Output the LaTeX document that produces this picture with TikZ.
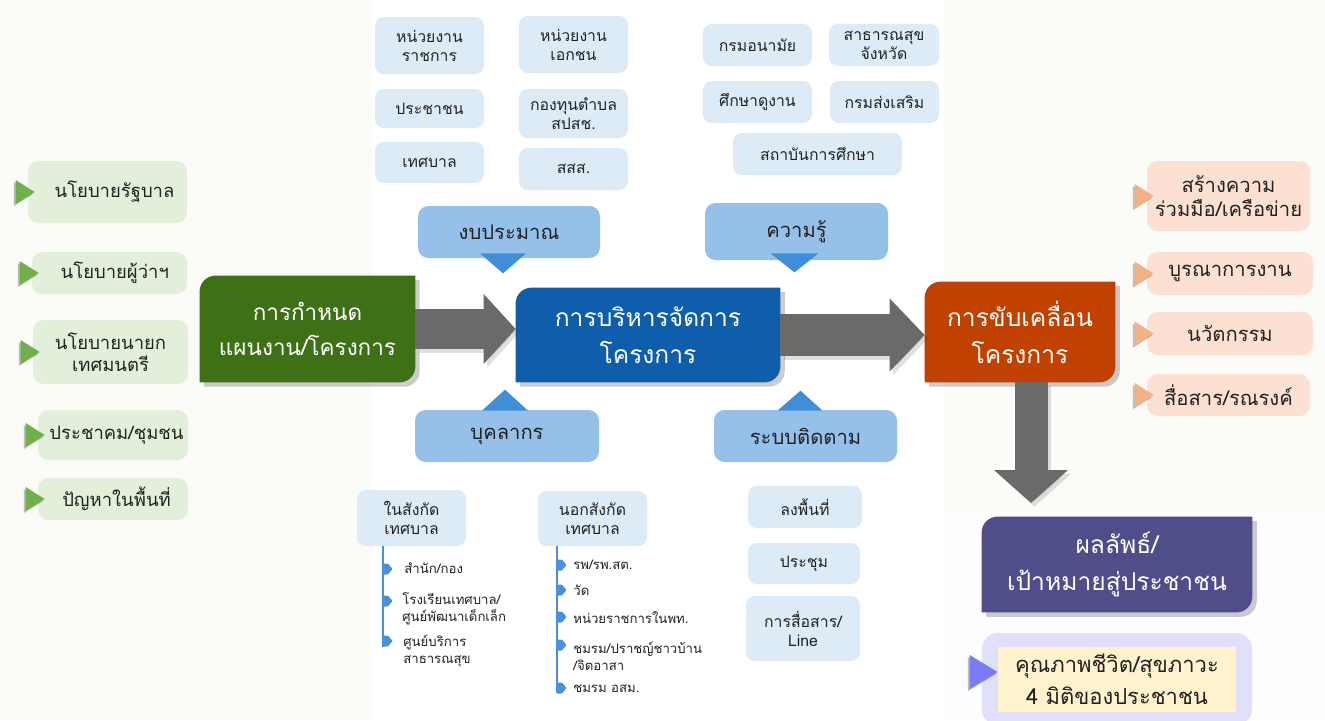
\documentclass[tikz,border=0pt]{standalone}
\usepackage{fontspec}
\setmainfont[Script=Thai]{Loma}
\usetikzlibrary{shadows,calc,arrows.meta,backgrounds}
\pgfdeclarelayer{bottom}
\pgfsetlayers{bottom,background,main}
\definecolor{pg0}{HTML}{FBFBF8}
\definecolor{pg1}{HTML}{FDFCFF}
\definecolor{lgreen}{HTML}{E2EFDA}
\definecolor{gtri}{HTML}{6FB04B}
\definecolor{mgreen}{HTML}{3E7016}
\definecolor{mblue}{HTML}{0F5EAC}
\definecolor{morange}{HTML}{C04100}
\definecolor{mpurple}{HTML}{4F4E8A}
\definecolor{lav}{HTML}{E0E0FA}
\definecolor{yel}{HTML}{FFF2CC}
\definecolor{ptri}{HTML}{7B7BF5}
\definecolor{sblue}{HTML}{DDEBF7}
\definecolor{cblue}{HTML}{95C0E9}
\definecolor{ctri}{HTML}{3F8FD8}
\definecolor{lline}{HTML}{4A8FD9}
\definecolor{peach}{HTML}{FCE1D2}
\definecolor{otri}{HTML}{F4B183}
\definecolor{garr}{HTML}{6A6A6A}
\definecolor{txt}{HTML}{222222}
\tikzset{
  sz/.style 2 args={minimum width={#1*0.02cm}, minimum height={#2*0.02cm}},
  sbox/.style={fill=sblue, rounded corners=5pt, text=txt, align=center, inner sep=0pt, font=\fontsize{9}{10.8}\selectfont},
  cbox/.style={fill=cblue, rounded corners=6pt, text=txt, align=center, inner sep=0pt, font=\fontsize{11.5}{14}\selectfont},
  gbox/.style={fill=lgreen, rounded corners=6pt, text=txt, align=center, inner sep=0pt, font=\fontsize{10.5}{12.5}\selectfont},
  rbox/.style={fill=peach, rounded corners=6pt, text=txt, align=center, inner sep=0pt, font=\fontsize{11.5}{14}\selectfont},
  mbox/.style={text=white, align=center, inner sep=0pt, font=\fontsize{14}{21}\selectfont},
  item/.style={anchor=west, align=left, inner sep=0pt, text=txt, font=\fontsize{7.5}{9.6}\selectfont},
  tshadow/.style={drop shadow={shadow xshift=-1pt, shadow yshift=-1.2pt, opacity=0.25, fill=black}},
  blockarrow/.style={draw=garr, line width=#1}
}
\newcommand\dshape[2]{%
 \begin{pgfonlayer}{background}
 \fill[#2, drop shadow={shadow xshift=2.5pt, shadow yshift=-2.5pt, opacity=0.2, fill=black}]
  [rounded corners=9pt] (#1.north west) rectangle (#1.south east)
  [sharp corners] ([xshift=-10pt]#1.north east) rectangle ([yshift=-10pt]#1.north east)
  ([yshift=10pt]#1.south west) rectangle ([xshift=10pt]#1.south west);
 \end{pgfonlayer}}
\newcommand\mk[2]{\fill[lline, rounded corners=0.6pt] (#1,#2) ++(0,-5.5) -- ++(6,0) -- ++(4.5,5.5) -- ++(-4.5,5.5) -- ++(-6,0) -- cycle;}
\begin{document}
\begin{tikzpicture}[x=0.02cm,y=-0.02cm]
\useasboundingbox (0,0) rectangle (1325,720);
\begin{pgfonlayer}{bottom}
\fill[pg0] (0,0) rectangle (1325,720);
\fill[white] (372,0) rectangle (945,720);
\fill[pg1] (947,510) rectangle (1325,720);
\end{pgfonlayer}

% top small boxes
\node[sbox, sz={109}{57}] (t1) at (429.5,45.5) {หน่วยงาน\\ราชการ};
\node[sbox, sz={109}{57}] (t2) at (573.5,44.5) {หน่วยงาน\\เอกชน};
\node[sbox, sz={109}{39}] (t3) at (429.5,108.5) {ประชาชน};
\node[sbox, sz={109}{49}] (t4) at (573.5,113.5) {กองทุนตำบล\\สปสช.};
\node[sbox, sz={109}{41}] (t5) at (429.5,162.5) {เทศบาล};
\node[sbox, sz={109}{42}] (t6) at (573.5,169) {สสส.};
\node[sbox, sz={109}{42}] (t7) at (757.5,45) {กรมอนามัย};
\node[sbox, sz={110}{42}] (t8) at (884,45) {สาธารณสุข\\จังหวัด};
\node[sbox, sz={109}{42}] (t9) at (757.5,102) {ศึกษาดูงาน};
\node[sbox, sz={109}{42}] (t10) at (884.5,102) {กรมส่งเสริม};
\node[sbox, sz={169}{42}] (t11) at (817.5,154) {สถาบันการศึกษา};

% callouts
\node[cbox, sz={182}{52}] (c1) at (509,232) {งบประมาณ};
\node[cbox, sz={183}{57}] (c2) at (796.5,231.5) {ความรู้};
\node[cbox, sz={184}{52}] (c3) at (507,436) {บุคลากร};
\node[cbox, sz={183}{52}] (c4) at (805.5,436) {ระบบติดตาม};
\fill[ctri] ($(c1.south)+(-29,-5)$) -- ($(c1.south)+(17,-5)$) -- ($(c1.south)+(-6,15)$) -- cycle;
\fill[ctri] ($(c2.south)+(-26,-7)$) -- ($(c2.south)+(22,-7)$) -- ($(c2.south)+(-2,12)$) -- cycle;
\fill[ctri] ($(c3.north)+(-25,1)$) -- ($(c3.north)+(21,1)$) -- ($(c3.north)+(-2,-20)$) -- cycle;
\fill[ctri] ($(c4.north)+(-28,1)$) -- ($(c4.north)+(17,1)$) -- ($(c4.north)+(-5,-19)$) -- cycle;

% main boxes
\node[mbox, sz={215}{106}, font=\fontsize{12.8}{20}\selectfont] (g) at (307.5,329) {การกำหนด\\แผนงาน/โครงการ};
\node[mbox, sz={264}{94}] (b) at (648,335) {การบริหารจัดการ\\โครงการ};
\node[mbox, sz={190}{100}] (o) at (1020,332) {การขับเคลื่อน\\โครงการ};
\node[mbox, sz={270}{95}] (p) at (1117,564.5) {ผลลัพธ์/\\เป้าหมายสู่ประชาชน};
\dshape{g}{mgreen}
\dshape{b}{mblue}
\dshape{o}{morange}
\dshape{p}{mpurple}

% block arrows
\draw[blockarrow=0.8cm, black, opacity=0.12, transform canvas={xshift=2pt,yshift=-2pt}, -{Triangle[length=0.64cm, width=1.36cm]}] (g.east) -- (g.east -| b.west);
\draw[blockarrow=0.8cm, -{Triangle[length=0.64cm, width=1.36cm]}] (g.east) -- (g.east -| b.west);
\draw[blockarrow=0.84cm, black, opacity=0.12, transform canvas={xshift=2pt,yshift=-2pt}, -{Triangle[length=0.7cm, width=1.42cm]}] (b.east) -- (b.east -| o.west);
\draw[blockarrow=0.84cm, -{Triangle[length=0.7cm, width=1.42cm]}] (b.east) -- (b.east -| o.west);
\coordinate (dtip) at (1031,503);
\draw[blockarrow=0.66cm, black, opacity=0.12, transform canvas={xshift=2pt,yshift=-2pt}, -{Triangle[length=0.66cm, width=1.44cm]}] (o.south -| dtip) -- (dtip);
\draw[blockarrow=0.66cm, -{Triangle[length=0.66cm, width=1.44cm]}] (o.south -| dtip) -- (dtip);

% left inputs
\node[gbox, sz={159}{62}] (l1) at (107.5,192) {\hspace*{8pt}นโยบายรัฐบาล};
\node[gbox, sz={155}{42}] (l2) at (109.5,273) {\hspace*{6pt}นโยบายผู้ว่าฯ};
\node[gbox, sz={155}{64}] (l3) at (110.5,352) {นโยบายนายก\\เทศมนตรี};
\node[gbox, sz={150}{50}] (l4) at (113,435) {\hspace*{4pt}ประชาคม/ชุมชน};
\node[gbox, sz={150}{42}] (l5) at (113,499) {\hspace*{4pt}ปัญหาในพื้นที่};
\foreach \n in {l1,l2,l3,l4,l5}{
  \fill[gtri, tshadow] ($(\n.west)+(-12,-12)$) -- ($(\n.west)+(7,0)$) -- ($(\n.west)+(-12,12)$) -- cycle;
}

% right outputs
\node[rbox, sz={163}{70}] (r1) at (1228.5,196) {สร้างความ\\ร่วมมือ/เครือข่าย};
\node[rbox, sz={166}{43}] (r2) at (1230,273.5) {บูรณาการงาน};
\node[rbox, sz={166}{43}] (r3) at (1230,333.5) {นวัตกรรม};
\node[rbox, sz={163}{42}] (r4) at (1228.5,395) {สื่อสาร/รณรงค์};
\foreach \n in {r1,r2,r3,r4}{
  \fill[otri, tshadow] ($(\n.west)+(-12,-12)$) -- ($(\n.west)+(7,0)$) -- ($(\n.west)+(-12,12)$) -- cycle;
}

% result
\node[fill=lav, rounded corners=9pt, sz={270}{92}, inner sep=0pt] (lv) at (1117,679) {};
\node[fill=yel, sz={238}{65}, inner sep=0pt, align=center, text=txt, font=\fontsize{12.5}{18}\selectfont] (y) at (1117,679.5) {คุณภาพชีวิต/สุขภาวะ\\4 มิติของประชาชน};
\fill[ptri, tshadow] ($(y.west)+(-28,-24.5)$) -- ($(y.west)+(0,-7.5)$) -- ($(y.west)+(-28,9.5)$) -- cycle;

% bottom lists
\node[sbox, sz={109}{56}] (b1) at (411.5,518) {ในสังกัด\\เทศบาล};
\node[sbox, sz={109}{55}] (b2) at (592.5,518.5) {นอกสังกัด\\เทศบาล};
\coordinate (L1end) at (383,647);
\coordinate (L2end) at (557,690);
\draw[lline, line width=1.2pt] (b1.south -| L1end) -- (L1end);
\draw[lline, line width=1.2pt] (b2.south -| L2end) -- (L2end);
\node[item] (i1) at (404,568) {สำนัก/กอง};
\node[item] (i2) at (402,608.5) {โรงเรียนเทศบาล/\\ศูนย์พัฒนาเด็กเล็ก};
\node[item] (i3) at (403,651) {ศูนย์บริการ\\สาธารณสุข};
\mk{382}{569}
\mk{382}{601}
\mk{382}{641}
\node[item] (j1) at (573,565) {รพ/รพ.สต.};
\node[item] (j2) at (573,590) {วัด};
\node[item] (j3) at (573,618) {หน่วยราชการในพท.};
\node[item] (j4) at (573,656.5) {ชมรม/ปราชญ์ชาวบ้าน\\/จิตอาสา};
\node[item] (j5) at (573,689) {ชมรม อสม.};
\mk{556}{565}
\mk{556}{590}
\mk{556}{617}
\mk{556}{645}
\mk{556}{688}

\node[sbox, sz={114}{42}] (m1) at (805,507) {ลงพื้นที่};
\node[sbox, sz={112}{41}] (m2) at (804,563.5) {ประชุม};
\node[sbox, sz={114}{65}] (m3) at (803,628.5) {การสื่อสาร/\\Line};
\end{tikzpicture}
\end{document}
